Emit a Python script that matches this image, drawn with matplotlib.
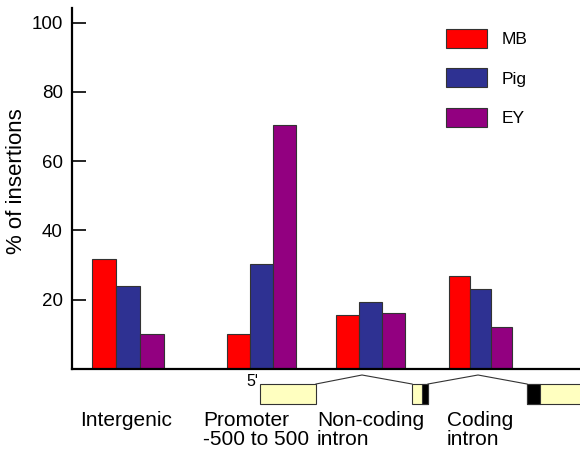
import numpy as np
import matplotlib
matplotlib.use('Agg')
import matplotlib.pyplot as plt
from matplotlib.patches import Rectangle
from matplotlib.lines import Line2D

plt.rcParams['font.family'] = ['Liberation Sans', 'DejaVu Sans']

# data
categories = ['Intergenic', 'Promoter\n-500 to 500', 'Non-coding\nintron', 'Coding\nintron']
series = ['MB', 'Pig', 'EY']
mb = [31.7, 10.2, 15.7, 26.8]
pig = [24.1, 30.2, 19.2, 23.0]
ey = [10.1, 70.4, 16.3, 12.2]
yticks = [20, 40, 60, 80, 100]

colors = ['#ff0000', '#2e3192', '#920080']

# layout (x in pixels from the y axis)
W, H = 580, 450
centers = [56, 189, 298, 408]
widths = [24, 23, 23, 21]
label_x = [80, 203, 317, 447]


def fx(px):
    return px / W


def fy(py):
    return 1 - py / H


fig = plt.figure(figsize=(5.8, 4.5), dpi=100)
ax = fig.add_axes([fx(72), fy(369), fx(508), (369 - 8) / H])

values = [mb, pig, ey]
for k, (name, vals) in enumerate(zip(series, values)):
    xs = [c + (k - 1) * w for c, w in zip(centers, widths)]
    ax.bar(xs, vals, width=widths, color=colors[k], edgecolor='#333333',
           linewidth=0.8, label=name)

ax.set_xlim(0, 508)
ax.set_ylim(0, 104.2)
ax.set_yticks(yticks)
ax.set_xticks([])
ax.tick_params(axis='y', direction='in', length=10, width=1.2, labelsize=13.5, pad=6.5)
for s in ['top', 'right']:
    ax.spines[s].set_visible(False)
ax.spines['left'].set_linewidth(1.6)
ax.spines['bottom'].set_linewidth(1.6)
ax.set_ylabel('% of insertions', fontsize=16)
ax.yaxis.set_label_coords(-0.088, 0.52)

ax.legend(frameon=False, loc='upper left', bbox_to_anchor=(fx(445.7), fy(28.7)),
          bbox_transform=fig.transFigure, borderaxespad=0, borderpad=0,
          fontsize=12.5, handlelength=2.4, handleheight=1.3, labelspacing=1.2,
          handletextpad=0.8)

# gene diagram below the axis
yellow = '#ffffc0'


def box(x0, x1, fc):
    fig.patches.append(Rectangle((fx(x0), fy(404)), fx(x1 - x0), (404 - 384) / H,
                                 transform=fig.transFigure, facecolor=fc,
                                 edgecolor='#333333', linewidth=0.8))


box(260, 316, yellow)
box(412, 428, yellow)
box(422, 428, 'black')
box(527, 585, yellow)
box(527, 540, 'black')
for xs, ys in [([316, 362, 412], [384, 375, 384]), ([428, 478, 527], [384, 375, 384])]:
    fig.lines.append(Line2D([fx(x) for x in xs], [fy(y) for y in ys],
                            transform=fig.transFigure, color='#333333', linewidth=0.8))
fig.text(fx(258), fy(382), "5'", ha='right', va='center', fontsize=11.5)

for lx, lab in zip(label_x, categories):
    fig.text(fx(lx), fy(411), lab, ha='left', va='top', fontsize=15, linespacing=1.0)

fig.savefig('out.png', dpi=100)
